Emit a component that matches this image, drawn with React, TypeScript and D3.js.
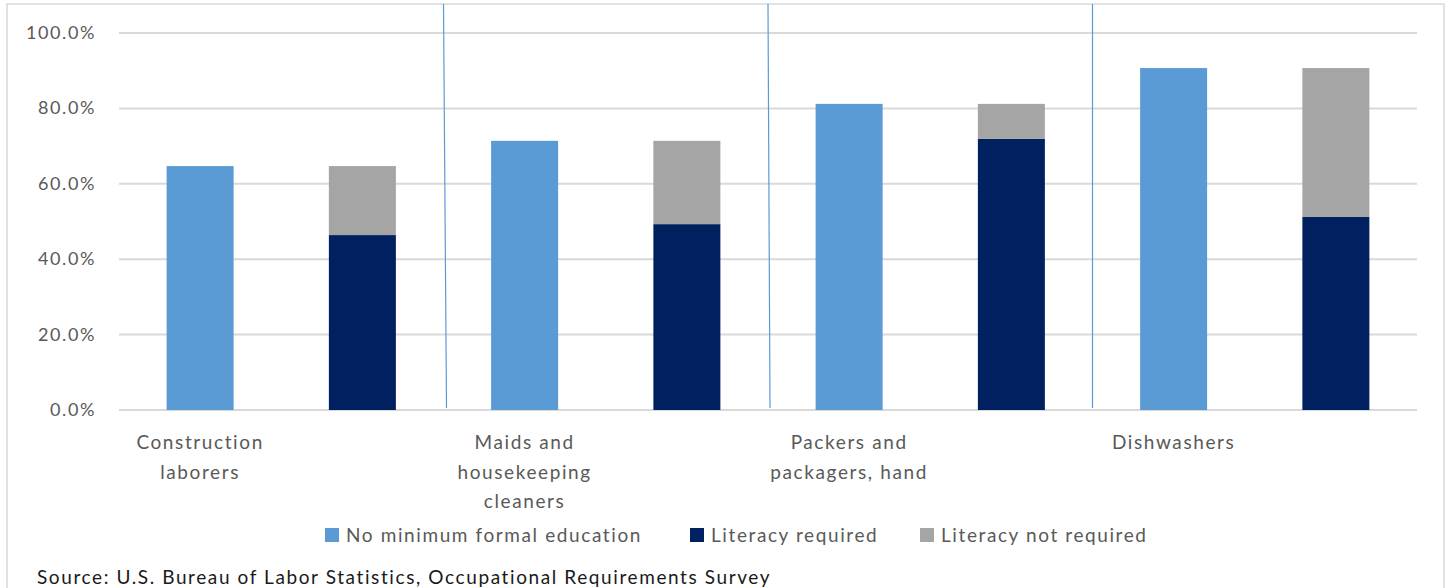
import React from 'react'
import * as d3 from 'd3'

const occupationLabels = [
  ['Construction', 'laborers'],
  ['Maids and', 'housekeeping', 'cleaners'],
  ['Packers and', 'packagers, hand'],
  ['Dishwashers'],
]
const noMinimumEducation = [64.7, 71.4, 81.2, 90.7]
const literacyRequired = [46.4, 49.3, 71.9, 51.2]
const literacyNotRequired = [18.3, 22.1, 9.3, 39.5]
const yTicks = [0, 20, 40, 60, 80, 100]
const legendItems = ['No minimum formal education', 'Literacy required', 'Literacy not required']
const sourceNote = 'Source: U.S. Bureau of Labor Statistics, Occupational Requirements Survey'

const COLORS = { light: '#5b9bd5', navy: '#002060', gray: '#a5a5a5' }
const FONT = 'Lato, "Open Sans", sans-serif'

export default function App() {
  const width = 1448
  const height = 588
  const margin = { left: 119, right: 31, top: 33, bottom: 178 }

  // 8 slots: each occupation has an education bar and a stacked literacy bar
  const slots = d3.range(occupationLabels.length * 2).map(String)
  const x = d3
    .scaleBand()
    .domain(slots)
    .range([margin.left, width - margin.right])
    .paddingInner(0.587)
    .paddingOuter(0.2935)
  const y = d3.scaleLinear().domain([0, 100]).range([height - margin.bottom, margin.top])
  const bw = x.bandwidth()
  const step = x.step()

  const stacked = d3.stack<number>().keys(['0', '1'])(
    literacyRequired.map((v, i) => ({ 0: v, 1: literacyNotRequired[i] })) as any
  )

  const dividers = [1, 2, 3].map((k) => (x(String(k * 2)) ?? 0) - (step - bw) / 2)
  const slants = [3, 2, 0]

  const legendX = [325, 690, 920]

  return (
    <svg
      width={width}
      height={height}
      style={{ position: 'absolute', left: 0, top: 0, background: '#fff', letterSpacing: '1.6px' }}
      fontFamily={FONT}
    >
      <rect x={7} y={4} width={1437} height={600} fill="none" stroke="#d9d9d9" strokeWidth={1.5} />

      {yTicks.map((t) => (
        <g key={t}>
          <line
            x1={margin.left}
            x2={width - margin.right}
            y1={y(t)}
            y2={y(t)}
            stroke="#d9d9d9"
            strokeWidth={2}
          />
          <text x={96} y={y(t) + 6} textAnchor="end" fontSize={18} fill="#595959">
            {t.toFixed(1)}%
          </text>
        </g>
      ))}

      {dividers.map((dx, i) => (
        <line
          key={i}
          x1={dx}
          x2={dx + slants[i]}
          y1={4}
          y2={y(0) - 2}
          stroke="#5b9bd5"
          strokeWidth={1.2}
        />
      ))}

      {noMinimumEducation.map((v, i) => (
        <rect
          key={`e${i}`}
          x={x(String(i * 2))}
          y={y(v)}
          width={bw}
          height={y(0) - y(v)}
          fill={COLORS.light}
        />
      ))}

      {stacked.map((layer, li) =>
        layer.map((d, i) => (
          <rect
            key={`s${li}-${i}`}
            x={x(String(i * 2 + 1))}
            y={y(d[1])}
            width={bw}
            height={y(d[0]) - y(d[1])}
            fill={li === 0 ? COLORS.navy : COLORS.gray}
          />
        ))
      )}

      {occupationLabels.map((lines, i) => (
        <text
          key={`l${i}`}
          x={(x(String(i * 2)) ?? 0) + bw / 2}
          y={449}
          textAnchor="middle"
          fontSize={19}
          fill="#595959"
        >
          {lines.map((ln, j) => (
            <tspan key={j} x={(x(String(i * 2)) ?? 0) + bw / 2} dy={j === 0 ? 0 : 29.5}>
              {ln}
            </tspan>
          ))}
        </text>
      ))}

      {legendItems.map((label, i) => (
        <g key={label}>
          <rect
            x={legendX[i]}
            y={528}
            width={14}
            height={14}
            fill={[COLORS.light, COLORS.navy, COLORS.gray][i]}
          />
          <text x={legendX[i] + 21} y={542} fontSize={19} fill="#595959">
            {label}
          </text>
        </g>
      ))}

      <text x={37} y={584} fontSize={19} fill="#1a1a1a">
        {sourceNote}
      </text>
    </svg>
  )
}
